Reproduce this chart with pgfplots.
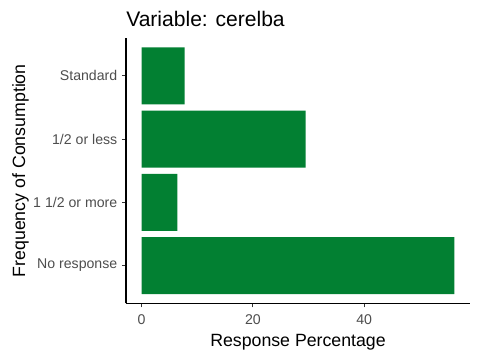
\documentclass[border=0pt]{standalone}
\usepackage{pgfplots}
\pgfplotsset{compat=1.18}
\usepackage{fontspec}
\setmainfont{Liberation Sans}
\definecolor{bargreen}{RGB}{2,128,50}
\definecolor{tickgray}{RGB}{77,77,77}
\definecolor{axgray}{RGB}{51,51,51}
\begin{document}
\begin{tikzpicture}
\useasboundingbox (-94.5pt,-42.375pt) rectangle (265.5pt,227.625pt);
\begin{axis}[
  at={(0pt,0pt)}, anchor=south west,
  scale only axis, width=258pt, height=199.125pt,
  xmin=-2.81, xmax=59.0, ymin=0.4, ymax=4.6,
  axis x line*=bottom, axis y line*=left,
  axis line style={black, line width=0.8pt, -},
  xtick={0,20,40}, ytick={1,2,3,4},
  yticklabels={No response,1 1/2 or more,1/2 or less,Standard},
  tick align=outside, major tick length=3pt,
  tick style={axgray, line width=0.8pt},
  ticklabel style={font=\fontsize{10.6}{12}\selectfont, text=tickgray},
  /pgf/number format/assume math mode=true,
  xticklabel style={anchor=base, inner sep=0pt, yshift=-13pt},
  title={Variable: cerelba},
  title style={at={(axis description cs:0,1)}, anchor=base west, inner sep=0pt, yshift=2.25pt, font=\fontsize{15.8}{18}\selectfont},
  xlabel={Response Percentage},
  xlabel style={at={(axis description cs:0.5,0)}, anchor=base, inner sep=0pt, yshift=-32.6pt, font=\fontsize{13.3}{15}\selectfont},
  ylabel={Frequency of Consumption},
  ylabel style={at={(axis description cs:-0.2936,0.5)}, anchor=base, inner sep=0pt, font=\fontsize{13.3}{15}\selectfont},
  xbar, bar width=0.9,
]
\addplot[fill=bargreen, draw=none] coordinates {(56.2,1) (6.41,2) (29.46,3) (7.72,4)};
\end{axis}
\end{tikzpicture}
\end{document}
